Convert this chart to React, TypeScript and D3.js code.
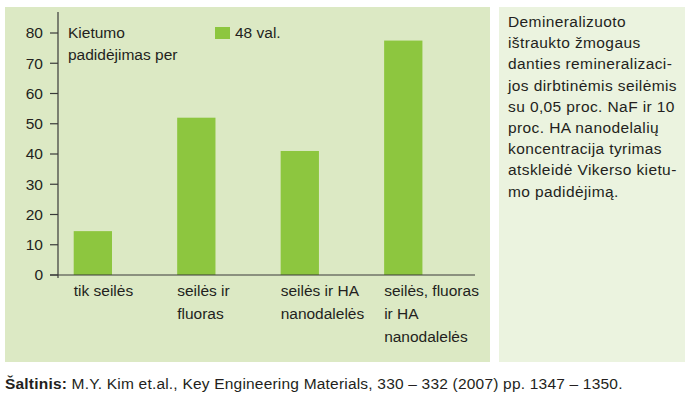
import React from 'react'
import * as d3 from 'd3'

const categories = ['tik seilės', 'seilės ir fluoras', 'seilės ir HA nanodalelės', 'seilės, fluoras ir HA nanodalelės']
const categoryLines = [
  ['tik seilės'],
  ['seilės ir', 'fluoras'],
  ['seilės ir HA', 'nanodalelės'],
  ['seilės, fluoras', 'ir HA', 'nanodalelės']
]
const values48h = [14.5, 52, 41, 77.5]
const yTicks = [0, 10, 20, 30, 40, 50, 60, 70, 80]
const yTitle = ['Kietumo', 'padidėjimas per']
const seriesName = '48 val.'
const sideNote = [
  'Demineralizuoto',
  'ištraukto žmogaus',
  'danties remineralizaci-',
  'jos dirbtinėmis seilėmis',
  'su 0,05 proc. NaF ir 10',
  'proc. HA nanodelalių',
  'koncentracija tyrimas',
  'atskleidė Vikerso kietu-',
  'mo padidėjimą.'
]

const FONT = '"Liberation Sans", Arial, sans-serif'
const TEXT = '#231f20'
const BAR = '#8dc63f'
const FS = 15.5

const App = () => {
  const width = 691
  const height = 394

  // plot area
  const x0 = 58
  const x1 = 475
  const yBottom = 275
  const yTop80 = 33

  const y = d3.scaleLinear().domain([0, 80]).range([yBottom, yTop80])
  const x = d3
    .scaleBand()
    .domain(categories)
    .range([x0, x1])
    .paddingInner(0.63)
    .paddingOuter(0.33)
    .align(0.23)

  const bars = categories.map((c, i) => (
    <rect
      key={c}
      x={x(c)}
      y={y(values48h[i])}
      width={x.bandwidth()}
      height={yBottom - y(values48h[i])}
      fill={BAR}
    />
  ))

  const ticks = yTicks.map((t) => (
    <g key={t} transform={`translate(0,${y(t)})`}>
      <line x1={50} x2={x0} stroke="#3a3a3a" strokeWidth={1.2} />
      <text x={43} dy="0.35em" textAnchor="end" fontSize={FS} fill={TEXT}>
        {t}
      </text>
    </g>
  ))

  const xLabels = categories.map((c, i) => (
    <text key={c} x={x(c)} y={296} fontSize={FS} fill={TEXT}>
      {categoryLines[i].map((l, j) => (
        <tspan key={j} x={x(c)} dy={j === 0 ? 0 : 23}>
          {l}
        </tspan>
      ))}
    </text>
  ))

  return (
    <svg
      width={width}
      height={height}
      style={{ position: 'absolute', left: 0, top: 0, background: '#fff' }}
      fontFamily={FONT}
    >
      <rect x={5} y={7} width={485} height={355} fill="#dce9c4" />
      <rect x={499} y={7} width={186} height={355} fill="#ebf3df" />

      {bars}

      {/* axes */}
      <line x1={x0} x2={x0} y1={12} y2={yBottom + 3} stroke="#3a3a3a" strokeWidth={1.2} />
      <line x1={50} x2={x1} y1={yBottom} y2={yBottom} stroke="#3a3a3a" strokeWidth={1.2} />
      {ticks}
      {xLabels}

      {/* y title */}
      <text x={68} y={38} fontSize={FS} fill={TEXT}>
        {yTitle.map((l, j) => (
          <tspan key={j} x={68} dy={j === 0 ? 0 : 22}>
            {l}
          </tspan>
        ))}
      </text>

      {/* legend */}
      <rect x={215} y={27} width={15} height={12} fill={BAR} />
      <text x={235} y={38} fontSize={FS} fill={TEXT}>
        {seriesName}
      </text>

      {/* side note */}
      <text x={508} y={27} fontSize={FS} letterSpacing={0.4} fill={TEXT}>
        {sideNote.map((l, j) => (
          <tspan key={j} x={508} dy={j === 0 ? 0 : 21.2}>
            {l}
          </tspan>
        ))}
      </text>

      {/* source */}
      <text x={5} y={389} fontSize={FS} letterSpacing={0.2} fill={TEXT}>
        <tspan fontWeight="bold">Šaltinis:</tspan>
        <tspan> M.Y. Kim et.al., Key Engineering Materials, 330 – 332 (2007) pp. 1347 – 1350.</tspan>
      </text>
    </svg>
  )
}

export default App
